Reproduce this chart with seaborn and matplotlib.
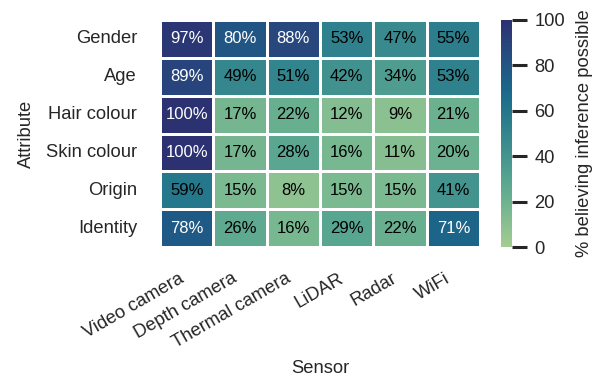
import numpy as np
import pandas as pd
import matplotlib
matplotlib.use("Agg")
import matplotlib.pyplot as plt
import seaborn as sns

attributes = ["Gender", "Age", "Hair colour", "Skin colour", "Origin", "Identity"]
sensors = ["Video camera", "Depth camera", "Thermal camera", "LiDAR", "Radar", "WiFi"]

gender = [97, 80, 88, 53, 47, 55]
age = [89, 49, 51, 42, 34, 53]
hair_colour = [100, 17, 22, 12, 9, 21]
skin_colour = [100, 17, 28, 16, 11, 20]
origin = [59, 15, 8, 15, 15, 41]
identity = [78, 26, 16, 29, 22, 71]

df = pd.DataFrame([gender, age, hair_colour, skin_colour, origin, identity],
                  index=attributes, columns=sensors)
labels = df.map(lambda v: f"{v:.0f}%")

sns.set_theme(style="white", context="notebook")
plt.rcParams["font.family"] = ["Liberation Sans", "DejaVu Sans"]

fig = plt.figure(figsize=(6.0, 3.86), dpi=100)
ax = fig.add_axes([160 / 600, 1 - 247 / 386, 320 / 600, 227 / 386])
cax = fig.add_axes([501 / 600, 1 - 247 / 386, 11 / 600, 227 / 386])

sns.heatmap(df, ax=ax, cbar_ax=cax, cmap="crest", vmin=0, vmax=100,
            annot=False, linewidths=0.8, linecolor="white",
            cbar_kws={"label": "% believing inference possible"})

# cell labels: white text on the darkest cells, black elsewhere
for i, attr in enumerate(attributes):
    for j, sen in enumerate(sensors):
        v = df.loc[attr, sen]
        ax.text(j + 0.5, i + 0.5, labels.loc[attr, sen], ha="center", va="center",
                fontsize=12, color="white" if v >= 65 else "black")

ax.set_xlabel("Sensor", fontsize=13.2, labelpad=6)
ax.set_ylabel("Attribute", fontsize=13.2, labelpad=8)
ax.set_xticklabels(ax.get_xticklabels(), rotation=30, ha="right", fontsize=13.2)
ax.set_yticklabels(ax.get_yticklabels(), rotation=0, fontsize=13.2)
ax.tick_params(length=0, pad=16.5)

cax.set_yticks([0, 20, 40, 60, 80, 100])
cax.tick_params(labelsize=13.2, length=10.5, width=2.2, color="0.15", pad=5.5)
cax.set_ylabel("% believing inference possible", fontsize=13.2, labelpad=8)

fig.savefig("out.png", dpi=100)
